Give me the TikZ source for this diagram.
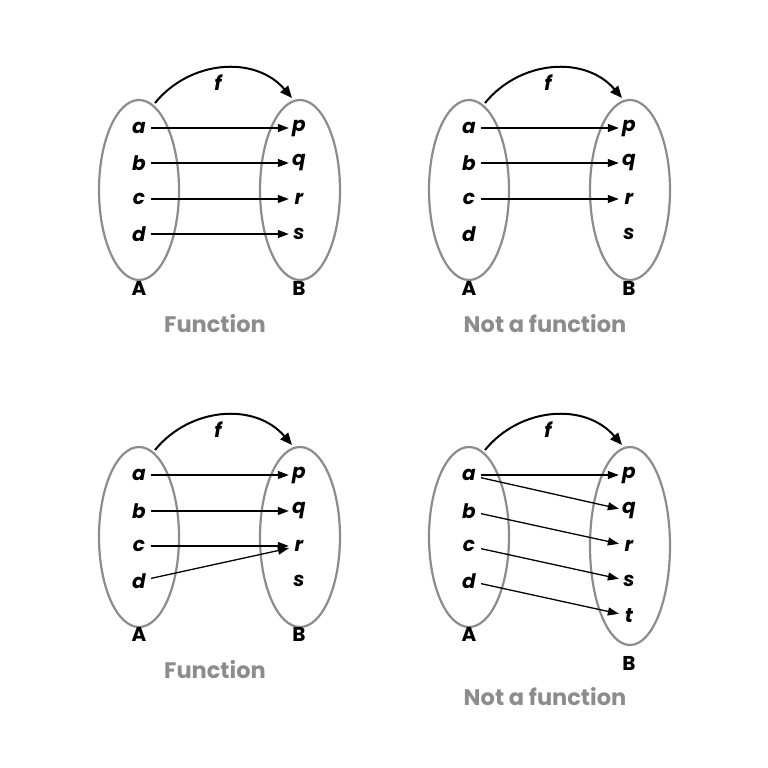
\documentclass[tikz,border=0pt]{standalone}
\usepackage{fontspec}
\setmainfont{Poppins}
\usetikzlibrary{arrows.meta}
\begin{document}
\begin{tikzpicture}[x=1pt,y=-1pt,
  set/.style={draw=black!45,line width=2.2pt},
  el/.style={font=\fontsize{20}{20}\selectfont\bfseries\itshape,inner sep=0pt,minimum width=14pt,minimum height=16pt},
  lab/.style={font=\fontsize{20}{20}\selectfont\bfseries,inner sep=0pt},
  captext/.style={font=\fontsize{22.5}{22.5}\selectfont\bfseries,text=black!45,inner sep=0pt},
  arr/.style={line width=1.3pt,shorten >=3pt,shorten <=5pt,-{Triangle[length=11pt,width=8pt]}},
  farr/.style={line width=2pt,-{Triangle[length=12pt,width=10pt]}}]
\useasboundingbox (0,0) rectangle (768,768);
% top-left
\draw[set] (139,190) ellipse (40 and 90);
\draw[set] (300,190) ellipse (40 and 90);
\foreach \n/\t/\y in {a/a/128,b/b/163,c/c/199,d/d/234}{\node[el] (tl\n) at (139,\y) {\t};}
\foreach \n/\t/\y in {p/p/128,q/q/163,r/r/199,s/s/234}{\node[el] (tl\n) at (299,\y) {\t};}
\coordinate (tlf1) at (155,103); \coordinate (tlf2) at (292,98);
\draw[farr] (tlf1) .. controls (190,60) and (255,55) .. (tlf2);
\node[el] (tlfl) at (218,83) {f};
\draw[arr] (tla) -- (tlp);
\draw[arr] (tlb) -- (tlq);
\draw[arr] (tlc) -- (tlr);
\draw[arr] (tld) -- (tls);
\node[lab] (tlA) at (139,288) {A};
\node[lab] (tlB) at (299,288) {B};
\node[captext] (tlcap) at (215,324) {Function};
% top-right
\draw[set] (469,190) ellipse (40 and 90);
\draw[set] (630,190) ellipse (40 and 90);
\foreach \n/\t/\y in {a/a/128,b/b/163,c/c/199,d/d/234}{\node[el] (tr\n) at (469,\y) {\t};}
\foreach \n/\t/\y in {p/p/128,q/q/163,r/r/199,s/s/234}{\node[el] (tr\n) at (629,\y) {\t};}
\coordinate (trf1) at (485,103); \coordinate (trf2) at (622,98);
\draw[farr] (trf1) .. controls (520,60) and (585,55) .. (trf2);
\node[el] (trfl) at (548,83) {f};
\draw[arr] (tra) -- (trp);
\draw[arr] (trb) -- (trq);
\draw[arr] (trc) -- (trr);
\node[lab] (trA) at (469,288) {A};
\node[lab] (trB) at (629,288) {B};
\node[captext] (trcap) at (545,324) {Not a function};
% bottom-left
\draw[set] (139,537) ellipse (40 and 90);
\draw[set] (300,537) ellipse (40 and 90);
\foreach \n/\t/\y in {a/a/475,b/b/511,c/c/546,d/d/581}{\node[el] (bl\n) at (139,\y) {\t};}
\foreach \n/\t/\y in {p/p/475,q/q/511,r/r/546,s/s/581}{\node[el] (bl\n) at (299,\y) {\t};}
\coordinate (blf1) at (155,450); \coordinate (blf2) at (292,445);
\draw[farr] (blf1) .. controls (190,407) and (255,402) .. (blf2);
\node[el] (blfl) at (218,430) {f};
\draw[arr] (bla) -- (blp);
\draw[arr] (blb) -- (blq);
\draw[arr] (blc) -- (blr);
\draw[arr] (bld) -- (blr);
\node[lab] (blA) at (139,634) {A};
\node[lab] (blB) at (299,634) {B};
\node[captext] (blcap) at (215,670) {Function};
% bottom-right
\draw[set] (469,537) ellipse (40 and 90);
\draw[set] (630,546) ellipse (40 and 99);
\foreach \n/\t/\y in {a/a/475,b/b/511,c/c/546,d/d/581}{\node[el] (br\n) at (469,\y) {\t};}
\foreach \n/\t/\y in {p/p/475,q/q/511,r/r/546,s/s/581,t/t/616}{\node[el] (br\n) at (629,\y) {\t};}
\coordinate (brf1) at (485,450); \coordinate (brf2) at (622,445);
\draw[farr] (brf1) .. controls (520,407) and (585,402) .. (brf2);
\node[el] (brfl) at (548,430) {f};
\draw[arr] (bra) -- (brp);
\draw[arr] (bra) -- (brq);
\draw[arr] (brb) -- (brr);
\draw[arr] (brc) -- (brs);
\draw[arr] (brd) -- (brt);
\node[lab] (brA) at (469,634) {A};
\node[lab] (brB) at (629,663) {B};
\node[captext] (brcap) at (545,697) {Not a function};
\end{tikzpicture}
\end{document}
